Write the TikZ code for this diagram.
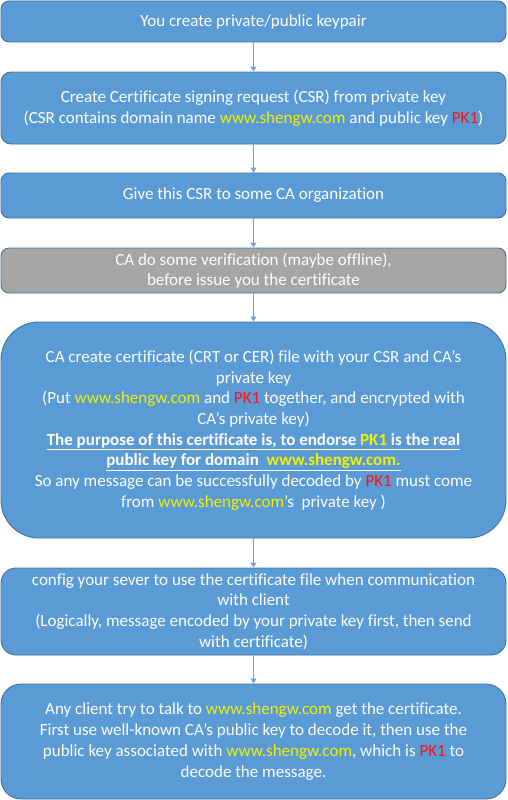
\documentclass[tikz,border=0pt]{standalone}
\usepackage{fontspec}
\setmainfont{Carlito}[Ligatures={ResetAll,NoCommon}]
\usetikzlibrary{arrows.meta}
\definecolor{boxblue}{HTML}{5B9BD5}
\definecolor{boxedge}{HTML}{41719C}
\definecolor{boxgray}{HTML}{A5A5A5}
\definecolor{arrowblue}{HTML}{6FA3D8}
\definecolor{ylw}{HTML}{F2F200}
\definecolor{rd}{HTML}{FF1010}
\newcommand{\yl}[1]{\textcolor{ylw}{#1}}
\newcommand{\rdk}[1]{\textcolor{rd}{#1}}
\tikzset{
  stepbox/.style={draw=boxedge, line width=0.9pt, fill=boxblue, rectangle,
    minimum width=505pt, inner sep=0pt, text=white, align=center,
    font=\fontsize{17}{20.7}\selectfont},
  flow/.style={draw=arrowblue, line width=1pt, -{Triangle[width=6pt,length=5pt]}}
}
\begin{document}
\begin{tikzpicture}[x=1pt,y=-1pt]
\useasboundingbox (0,0) rectangle (507,800);
\node[stepbox, rounded corners=8pt, minimum height=41pt] (b1) at (253.5,21.5)
  {You create private/public keypair};
\node[stepbox, rounded corners=10pt, minimum height=72pt] (b2) at (253.5,108)
  {Create Certificate signing request (CSR) from private key\\
   (CSR contains domain name \yl{www.shengw.com} and public key \rdk{PK1})};
\node[stepbox, rounded corners=8pt, minimum height=45pt] (b3) at (253.5,195.5)
  {Give this CSR to some CA organization};
\node[stepbox, fill=boxgray, rounded corners=8pt, minimum height=45pt] (b4) at (253.5,270.5)
  {CA do some verification (maybe offline),\\ before issue you the certificate};
\node[stepbox, rounded corners=38pt, minimum height=216pt] (b5) at (253.5,430)
  {CA create certificate (CRT or CER) file with your CSR and CA's\\
   private key\\
   (Put \yl{www.shengw.com} and \rdk{PK1} together, and encrypted with\\
   CA's private key)\\
   \textbf{\underline{The purpose of this certificate is, to endorse \yl{PK1} is the real}}\\
   \textbf{\underline{public key for domain\ \ \yl{www.shengw.com.}}}\\
   So any message can be successfully decoded by \rdk{PK1} must come\\
   from \yl{www.shengw.com}'s\ \ private key )};
\node[stepbox, rounded corners=15pt, minimum height=87pt] (b6) at (253.5,611.5)
  {config your sever to use the certificate file when communication\\
   with client\\
   (Logically, message encoded by your private key first, then send\\
   with certificate)};
\node[stepbox, rounded corners=20pt, minimum height=115pt] (b7) at (253.5,741.5)
  {Any client try to talk to \yl{www.shengw.com} get the certificate.\\
   First use well-known CA's public key to decode it, then use the\\
   public key associated with \yl{www.shengw.com}, which is \rdk{PK1} to\\
   decode the message.};
\draw[flow] (b1) -- (b2);
\draw[flow] (b2) -- (b3);
\draw[flow] (b3) -- (b4);
\draw[flow] (b4) -- (b5);
\draw[flow] (b5) -- (b6);
\draw[flow] (b6) -- (b7);
\end{tikzpicture}
\end{document}
